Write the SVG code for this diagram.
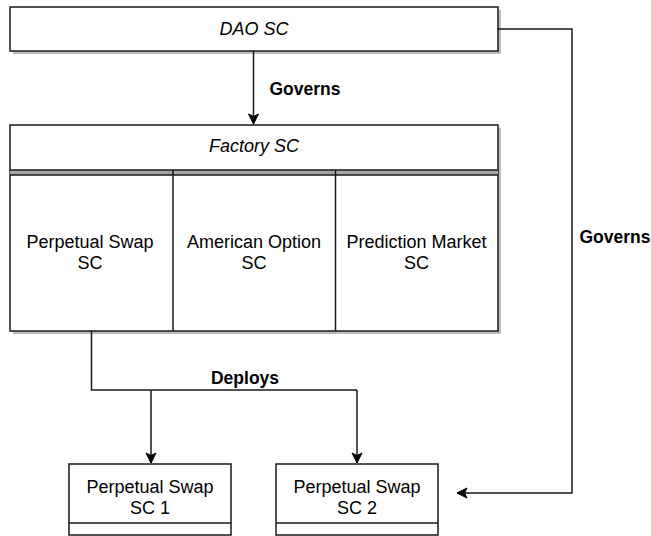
<svg xmlns="http://www.w3.org/2000/svg" width="651" height="536" viewBox="0 0 651 536">
  <style>
    .box { fill: #ffffff; stroke: #1a1a1a; stroke-width: 1.5; }
    .shadow { fill: #bdbdbd; stroke: none; }
    .line { fill: none; stroke: #1a1a1a; stroke-width: 1.5; }
    .txt { font-family: "Liberation Sans", Arial, sans-serif; font-size: 18px; fill: #000; text-anchor: middle; }
    .it { font-style: italic; }
    .lbl { font-family: "Liberation Sans", Arial, sans-serif; font-size: 17.5px; font-weight: bold; fill: #000; text-anchor: middle; }
  </style>
  <defs>
    <marker id="arrow" viewBox="0 0 12 12" refX="11" refY="6" markerWidth="12" markerHeight="12" markerUnits="userSpaceOnUse" orient="auto">
      <path d="M1,1 L11,6 L1,11 L3.5,6 Z" fill="#000" stroke="#000" stroke-width="1"/>
    </marker>
  </defs>

  <rect width="651" height="536" fill="#ffffff"/>

  <!-- DAO contract -->
  <g id="dao">
    <rect class="shadow" x="13" y="10" width="488" height="44"/>
    <rect class="box" x="10" y="7" width="488" height="44"/>
    <text class="txt it" x="254" y="34.5">DAO SC</text>
  </g>

  <!-- Factory contract with its three product templates -->
  <g id="factory">
    <rect class="shadow" x="13" y="128" width="488" height="206"/>
    <rect class="box" x="10" y="125" width="488" height="206"/>
    <text class="txt it" x="254" y="151.5">Factory SC</text>
    <rect x="10" y="170" width="488" height="5" fill="#a6a6a6"/>
    <line class="line" x1="10" y1="170" x2="498" y2="170"/>
    <line class="line" x1="10" y1="175" x2="498" y2="175"/>
    <line class="line" x1="173" y1="170" x2="173" y2="331"/>
    <line class="line" x1="335.5" y1="170" x2="335.5" y2="331"/>
  </g>
  <g id="tpl-perpetual">
    <text class="txt" x="90" y="247.5">Perpetual Swap</text>
    <text class="txt" x="90" y="268.5">SC</text>
  </g>
  <g id="tpl-option">
    <text class="txt" x="254" y="247.5">American Option</text>
    <text class="txt" x="254" y="268.5">SC</text>
  </g>
  <g id="tpl-prediction">
    <text class="txt" x="416.5" y="247.5">Prediction Market</text>
    <text class="txt" x="416.5" y="268.5">SC</text>
  </g>

  <!-- Deployed instances -->
  <g id="swap1">
    <rect class="box" x="69" y="464" width="162" height="71"/>
    <line class="line" x1="69" y1="523" x2="231" y2="523"/>
    <text class="txt" x="150" y="492.5">Perpetual Swap</text>
    <text class="txt" x="150" y="513.5">SC 1</text>
  </g>
  <g id="swap2">
    <rect class="box" x="276" y="464" width="162" height="71"/>
    <line class="line" x1="276" y1="523" x2="438" y2="523"/>
    <text class="txt" x="357" y="492.5">Perpetual Swap</text>
    <text class="txt" x="357" y="513.5">SC 2</text>
  </g>

  <!-- Connectors -->
  <g id="connectors">
    <line class="line" x1="253.5" y1="51" x2="253.5" y2="124" marker-end="url(#arrow)"/>
    <text class="lbl" x="305" y="95">Governs</text>

    <polyline class="line" points="498,29 572,29 572,493 457,493" marker-end="url(#arrow)"/>
    <text class="lbl" x="615" y="243">Governs</text>

    <polyline class="line" points="91.5,331 91.5,390 357,390"/>
    <line class="line" x1="151" y1="390" x2="151" y2="463" marker-end="url(#arrow)"/>
    <line class="line" x1="357" y1="390" x2="357" y2="463" marker-end="url(#arrow)"/>
    <text class="lbl" x="245" y="384">Deploys</text>
  </g>
</svg>
